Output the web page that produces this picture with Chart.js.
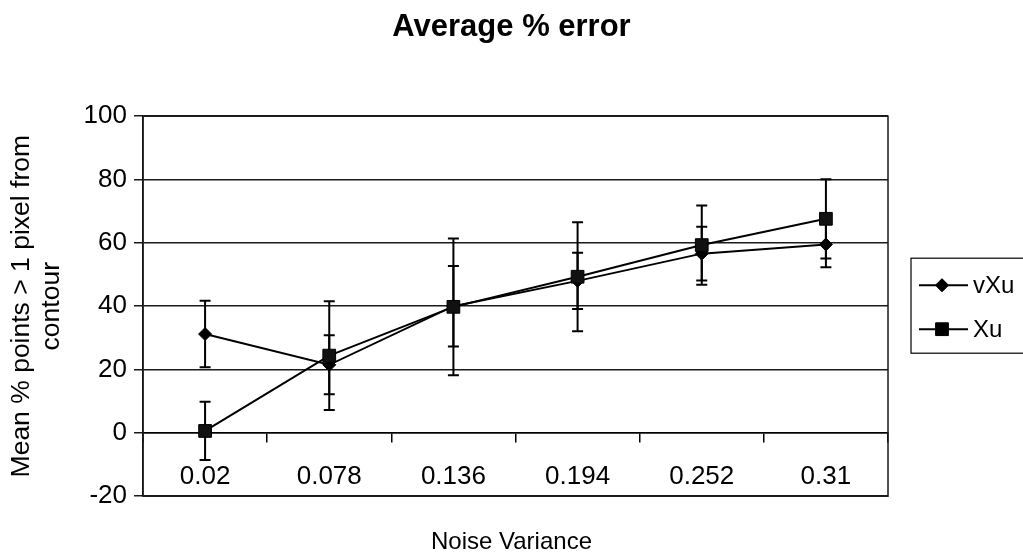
<!DOCTYPE html>
<html lang="en">
<head>
<meta charset="UTF-8">
<title>Average % error</title>
<script src="https://cdn.jsdelivr.net/npm/chart.js"></script>
<style>
  html, body { margin: 0; padding: 0; background: #fff; }
  .wrap { position: relative; width: 1023px; height: 558px; }
</style>
</head>
<body>
<div class="wrap"><canvas id="chart"></canvas></div>
<script>
// data
const noiseVariance = ['0.02', '0.078', '0.136', '0.194', '0.252', '0.31'];
const vXuMean = [31.2, 21.5, 40.0, 48.0, 56.6, 59.5];
const vXuErr = [10.5, 9.3, 12.7, 8.9, 8.5, 7.2];
const xuMean = [0.6, 24.4, 39.8, 49.3, 59.3, 67.6];
const xuErr = [9.2, 17.2, 21.6, 17.2, 12.5, 12.5];
const yTicks = { min: -20, max: 100, step: 20 };

const FONT = "'Liberation Sans', Arial, Helvetica, sans-serif";
Chart.defaults.font.family = FONT;
Chart.defaults.color = '#000';

const errors = { vXu: vXuErr, Xu: xuErr };

// error bars, drawn under the markers
const errorBars = {
  id: 'errorBars',
  beforeDatasetsDraw(chart) {
    const ctx = chart.ctx;
    const y = chart.scales.y;
    ctx.save();
    ctx.strokeStyle = '#000';
    ctx.lineWidth = 2;
    chart.data.datasets.forEach((ds, di) => {
      const meta = chart.getDatasetMeta(di);
      const err = errors[ds.label];
      meta.data.forEach((pt, i) => {
        const top = y.getPixelForValue(ds.data[i] + err[i]);
        const bot = y.getPixelForValue(ds.data[i] - err[i]);
        ctx.beginPath();
        ctx.moveTo(pt.x, top); ctx.lineTo(pt.x, bot);
        ctx.moveTo(pt.x - 5.5, top); ctx.lineTo(pt.x + 5.5, top);
        ctx.moveTo(pt.x - 5.5, bot); ctx.lineTo(pt.x + 5.5, bot);
        ctx.stroke();
      });
    });
    ctx.restore();
  }
};

// plot frame + legend box on the right
const frameAndLegend = {
  id: 'frameAndLegend',
  afterDraw(chart) {
    const ctx = chart.ctx;
    const a = chart.chartArea;
    ctx.save();
    ctx.strokeStyle = '#1a1a1a';
    ctx.lineWidth = 1.5;
    ctx.strokeRect(a.left, a.top, a.right - a.left, a.bottom - a.top);

    const mid = (a.top + a.bottom) / 2;
    const x0 = a.right + 23;
    ctx.lineWidth = 1.2;
    ctx.strokeStyle = '#000';
    ctx.strokeRect(x0, mid - 48, chart.width - x0 + 5, 95);

    const rows = [mid - 21, mid + 23];
    chart.data.datasets.forEach((ds, i) => {
      const ry = rows[i];
      ctx.beginPath();
      ctx.lineWidth = 2;
      ctx.moveTo(x0 + 8, ry); ctx.lineTo(x0 + 57, ry);
      ctx.stroke();
      ctx.fillStyle = '#000';
      ctx.lineWidth = 1;
      Chart.helpers.drawPoint(ctx, { pointStyle: ds.pointStyle, radius: ds.pointRadius, borderWidth: 1 }, x0 + 31, ry);
      ctx.fill();
      ctx.font = '24px ' + FONT;
      ctx.textBaseline = 'middle';
      ctx.textAlign = 'left';
      ctx.fillText(ds.label, x0 + 62, ry + 1);
    });
    ctx.restore();
  }
};

new Chart(document.getElementById('chart'), {
  type: 'line',
  data: {
    labels: noiseVariance,
    datasets: [
      {
        label: 'vXu',
        data: vXuMean,
        borderColor: '#000',
        borderWidth: 2,
        pointStyle: 'rectRot',
        pointRadius: 6.5,
        pointBackgroundColor: '#000',
        pointBorderColor: '#000',
        pointBorderWidth: 1,
        tension: 0,
        order: 1
      },
      {
        label: 'Xu',
        data: xuMean,
        borderColor: '#000',
        borderWidth: 2,
        pointStyle: 'rect',
        pointRadius: 9,
        pointBackgroundColor: '#111',
        pointBorderColor: '#000',
        pointBorderWidth: 1,
        tension: 0,
        order: 0
      }
    ]
  },
  options: {
    responsive: true,
    maintainAspectRatio: false,
    animation: false,
    layout: { padding: 0 },
    plugins: {
      legend: { display: false },
      tooltip: { enabled: false },
      title: {
        display: true,
        text: 'Average % error',
        color: '#000',
        font: { size: 31, weight: 'bold' },
        padding: { top: 9, bottom: 70 }
      },
      subtitle: {
        display: true,
        position: 'bottom',
        text: 'Noise Variance',
        color: '#000',
        font: { size: 24, weight: 'normal' },
        padding: { top: 32, bottom: 1 }
      }
    },
    scales: {
      x: {
        type: 'category',
        position: { y: 0 },
        offset: true,
        grid: {
          drawOnChartArea: false,
          drawTicks: true,
          tickLength: 9,
          offset: true,
          color: '#000',
          lineWidth: 1.5
        },
        border: { display: true, color: '#000', width: 1.5 },
        ticks: { font: { size: 26 }, color: '#000', padding: 19, maxRotation: 0 }
      },
      y: {
        position: 'left',
        min: yTicks.min,
        max: yTicks.max,
        afterFit(scale) { scale.width = 143; },
        ticks: { stepSize: yTicks.step, font: { size: 26 }, color: '#000', padding: 7 },
        grid: { color: '#1a1a1a', lineWidth: 1.5, tickLength: 9 },
        border: { display: true, color: '#000', width: 1.5 },
        title: {
          display: true,
          text: ['Mean % points > 1 pixel from', 'contour'],
          color: '#000',
          font: { size: 26.5, lineHeight: 1.12 },
          padding: { top: 7, bottom: 0 }
        }
      },
      // empty right-hand box that leaves room for the legend
      yRight: {
        position: 'right',
        display: true,
        min: yTicks.min,
        max: yTicks.max,
        afterFit(scale) { scale.width = 135; },
        grid: { display: false, drawOnChartArea: false },
        border: { display: false },
        ticks: { display: false }
      }
    }
  },
  plugins: [errorBars, frameAndLegend]
});
</script>
</body>
</html>
